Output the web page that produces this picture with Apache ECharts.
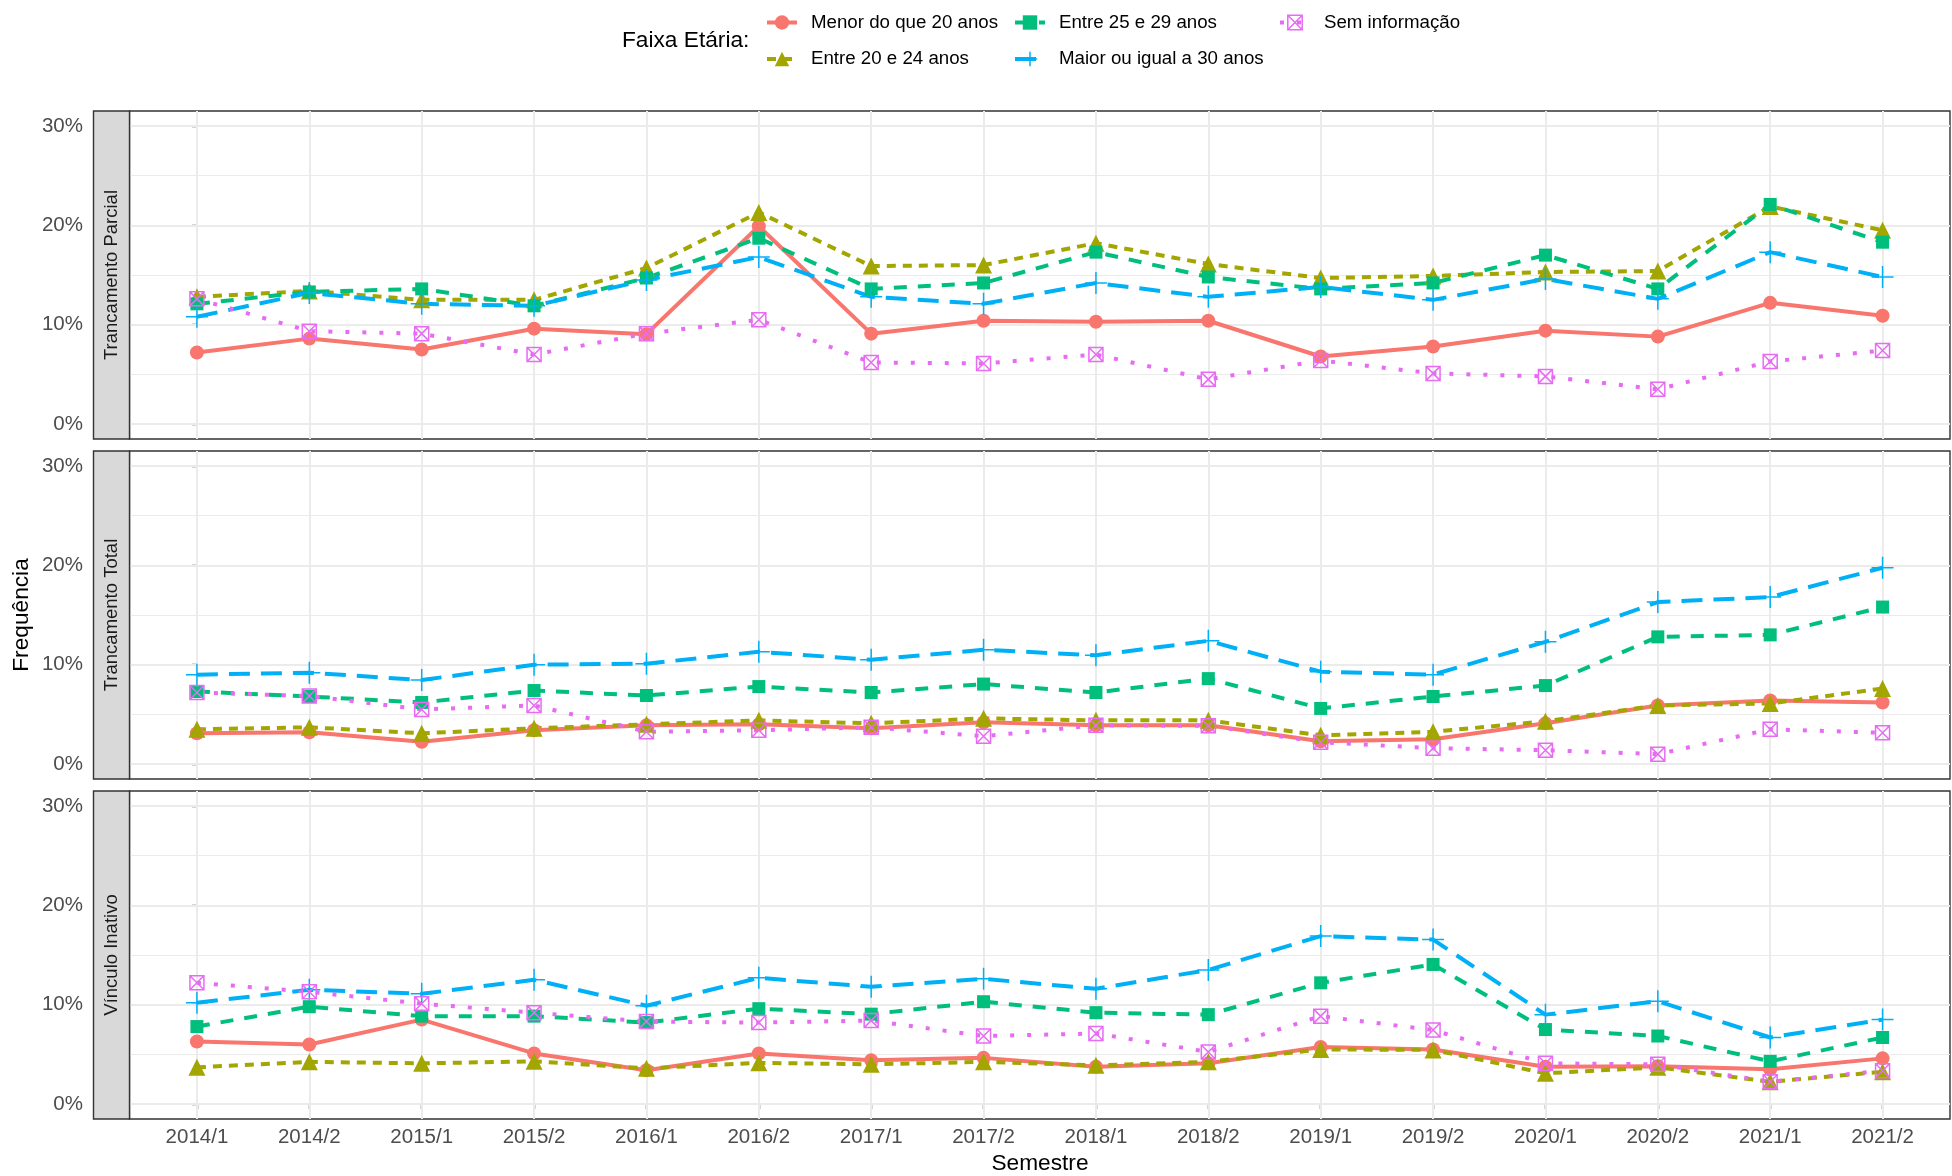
<!DOCTYPE html>
<html>
<head>
<meta charset="utf-8">
<script src="https://cdn.jsdelivr.net/npm/echarts@6/dist/echarts.min.js"></script>
<style>
html,body{margin:0;padding:0;background:#fff;}
#chart{width:1952px;height:1176px;}
</style>
</head>
<body>
<div id="chart"></div>
<script>
// ---------- DATA ----------
const semestres = ['2014/1','2014/2','2015/1','2015/2','2016/1','2016/2','2017/1','2017/2',
                   '2018/1','2018/2','2019/1','2019/2','2020/1','2020/2','2021/1','2021/2'];
const facetas = ['Trancamento Parcial','Trancamento Total','Vínculo Inativo'];
const faixas = ['Menor do que 20 anos','Entre 20 e 24 anos','Entre 25 e 29 anos','Maior ou igual a 30 anos','Sem informação'];
const yTicks = [0, 10, 20, 30];
const yMinor = [5, 15, 25];

// Trancamento Parcial (%)
const parcialMenor20 = [7.2, 8.6, 7.5, 9.6, 9.05, 19.9, 9.1, 10.4, 10.3, 10.4, 6.8, 7.8, 9.4, 8.8, 12.2, 10.9];
const parcial20a24   = [12.8, 13.4, 12.5, 12.5, 15.7, 21.3, 15.9, 16.0, 18.2, 16.1, 14.7, 14.9, 15.3, 15.4, 21.9, 19.5];
const parcial25a29   = [12.1, 13.3, 13.6, 11.9, 14.7, 18.7, 13.6, 14.2, 17.3, 14.8, 13.6, 14.2, 17.0, 13.6, 22.1, 18.3];
const parcial30mais  = [10.8, 13.2, 12.1, 11.9, 14.5, 16.8, 12.8, 12.1, 14.2, 12.8, 13.8, 12.5, 14.6, 12.6, 17.3, 14.8];
const parcialSemInfo = [12.6, 9.35, 9.1, 7.0, 9.1, 10.5, 6.2, 6.1, 7.0, 4.5, 6.4, 5.1, 4.8, 3.5, 6.3, 7.4];

// Trancamento Total (%)
const totalMenor20 = [3.1, 3.2, 2.25, 3.4, 3.9, 4.0, 3.6, 4.2, 3.9, 3.9, 2.3, 2.5, 4.1, 5.9, 6.4, 6.2];
const total20a24   = [3.5, 3.7, 3.1, 3.6, 4.0, 4.4, 4.1, 4.6, 4.4, 4.4, 2.9, 3.25, 4.3, 5.9, 6.1, 7.6];
const total25a29   = [7.3, 6.8, 6.2, 7.4, 6.9, 7.8, 7.2, 8.05, 7.2, 8.6, 5.6, 6.8, 7.9, 12.8, 13.0, 15.8];
const total30mais  = [9.0, 9.2, 8.45, 10.0, 10.1, 11.3, 10.5, 11.5, 10.95, 12.4, 9.3, 9.0, 12.3, 16.3, 16.8, 19.75];
const totalSemInfo = [7.2, 6.85, 5.5, 5.9, 3.25, 3.4, 3.7, 2.8, 3.9, 3.85, 2.2, 1.6, 1.4, 1.0, 3.5, 3.15];

// Vínculo Inativo (%)
const inativoMenor20 = [6.3, 6.0, 8.5, 5.1, 3.4, 5.1, 4.4, 4.65, 3.75, 4.1, 5.75, 5.5, 3.75, 3.8, 3.5, 4.6];
const inativo20a24   = [3.7, 4.25, 4.1, 4.3, 3.6, 4.15, 4.0, 4.25, 3.9, 4.25, 5.5, 5.45, 3.1, 3.7, 2.25, 3.25];
const inativo25a29   = [7.8, 9.8, 8.85, 8.85, 8.2, 9.6, 9.05, 10.3, 9.2, 9.0, 12.2, 14.05, 7.5, 6.85, 4.3, 6.7];
const inativo30mais  = [10.2, 11.5, 11.1, 12.5, 9.9, 12.7, 11.8, 12.6, 11.6, 13.5, 16.9, 16.55, 9.0, 10.35, 6.7, 8.5];
const inativoSemInfo = [12.2, 11.3, 10.1, 9.2, 8.3, 8.2, 8.4, 6.85, 7.1, 5.25, 8.85, 7.45, 4.1, 4.0, 2.25, 3.35];

const paineis = [
  [parcialMenor20, parcial20a24, parcial25a29, parcial30mais, parcialSemInfo],
  [totalMenor20, total20a24, total25a29, total30mais, totalSemInfo],
  [inativoMenor20, inativo20a24, inativo25a29, inativo30mais, inativoSemInfo]
];

// ---------- STYLES ----------
const FONT = '"Liberation Sans", Arial, Helvetica, sans-serif';
const estilos = [
  {color:'#F8766D', dash:'solid', symbol:'circle', size:14, fill:'#F8766D', bw:0},
  {color:'#A3A500', dash:[9,7], symbol:'triangle', size:17, fill:'#A3A500', bw:0},
  {color:'#00BF7D', dash:[13,11], symbol:'rect', size:13, fill:'#00BF7D', bw:0},
  {color:'#00B0F6', dash:[21,11], symbol:'path://M10,0L10,20M0,10L20,10', size:22, fill:'#00B0F6', bw:1.5},
  {color:'#E76BF3', dash:[4,13], symbol:'path://M0,0L20,0L20,20L0,20ZM0,0L20,20M20,0L0,20', size:14, fill:'rgba(0,0,0,0)', bw:1.5}
];

const gridTops = [111, 451, 791];
const gridH = 328;
const gridLeft = 129.5;

const grids = [], xAxes = [], yAxes = [], series = [], graphics = [];

gridTops.forEach((top, p) => {
  grids.push({left: gridLeft, right: 2, top: top, height: gridH, show: true,
    borderColor: '#333333', borderWidth: 1.4, backgroundColor: '#ffffff', containLabel: false});
  const bottom = p === 2;
  xAxes.push({gridIndex: p, type: 'value', min: -0.6, max: 15.6,
    axisLine: {show: false}, splitLine: {show: false},
    axisTick: {show: bottom, customValues: semestres.map((s, i) => i), length: 5,
      lineStyle: {color: '#333333', width: 1.4}},
    axisLabel: {show: bottom, customValues: semestres.map((s, i) => i),
      formatter: v => semestres[Math.round(v)] || '', margin: 8,
      color: '#4D4D4D', fontSize: 20.5, fontFamily: FONT}
  });
  yAxes.push({gridIndex: p, type: 'value', min: -1.5, max: 31.5, offset: 35.5,
    axisLine: {show: false}, splitLine: {show: false},
    axisTick: {show: true, customValues: yTicks, length: 5, lineStyle: {color: '#333333', width: 1.4}},
    axisLabel: {customValues: yTicks, formatter: v => v + '%', margin: 11,
      color: '#4D4D4D', fontSize: 20.5, fontFamily: FONT}
  });

  // grid lines through the axes
  const ml = [];
  yMinor.forEach(v => ml.push({yAxis: v, lineStyle: {color: '#EBEBEB', width: 1, type: 'solid'}}));
  yTicks.forEach(v => ml.push({yAxis: v, lineStyle: {color: '#EBEBEB', width: 2, type: 'solid'}}));
  semestres.forEach((s, i) => ml.push({xAxis: i, lineStyle: {color: '#EBEBEB', width: 2, type: 'solid'}}));
  series.push({type: 'line', name: '_grid' + p, xAxisIndex: p, yAxisIndex: p, data: [], z: 1, silent: true,
    markLine: {silent: true, z: 1, symbol: ['none', 'none'], label: {show: false}, animation: false, data: ml}});

  // lines
  paineis[p].forEach((vals, k) => {
    const st = estilos[k];
    series.push({type: 'line', name: faixas[k], xAxisIndex: p, yAxisIndex: p, z: 2,
      data: vals.map((v, i) => [i, v]), showSymbol: false,
      symbol: st.symbol, symbolSize: st.size,
      itemStyle: {color: st.fill, borderColor: st.color, borderWidth: st.bw},
      lineStyle: {color: st.color, width: 4, type: st.dash, cap: 'butt'},
      silent: true, animation: false});
  });
  // points on top of all lines
  paineis[p].forEach((vals, k) => {
    const st = estilos[k];
    series.push({type: 'scatter', name: faixas[k], xAxisIndex: p, yAxisIndex: p, z: 3,
      data: vals.map((v, i) => [i, v]), symbol: st.symbol, symbolSize: st.size,
      itemStyle: {color: st.fill, borderColor: st.color, borderWidth: st.bw, opacity: 1},
      silent: true, animation: false});
  });

  // facet strip
  graphics.push({type: 'rect', shape: {x: 93.5, y: top, width: 36, height: gridH},
    style: {fill: '#D9D9D9', stroke: '#333333', lineWidth: 1.4}, z: 10});
  graphics.push({type: 'text', x: 111.5, y: top + gridH / 2, rotation: Math.PI / 2,
    style: {text: facetas[p], fill: '#1A1A1A', font: '18.5px ' + FONT, align: 'center', verticalAlign: 'middle'}, z: 11});
});

graphics.push({type: 'text', x: 22, y: 615, rotation: Math.PI / 2,
  style: {text: 'Frequência', fill: '#000', font: '22.7px ' + FONT, align: 'center', verticalAlign: 'middle'}});
graphics.push({type: 'text', x: 1040, y: 1163.5,
  style: {text: 'Semestre', fill: '#000', font: '22.7px ' + FONT, align: 'center', verticalAlign: 'middle'}});
graphics.push({type: 'text', x: 622, y: 41,
  style: {text: 'Faixa Etária:', fill: '#000', font: '22.7px ' + FONT, align: 'left', verticalAlign: 'middle'}});

// legend: one component per key to reproduce the 2-row, column-major layout
const legendPos = [[765, 22], [765, 58.5], [1013, 22], [1013, 58.5], [1278, 22]];
const legends = faixas.map((nome, k) => ({
  data: [nome], left: legendPos[k][0], top: legendPos[k][1] - 9, orient: 'horizontal',
  padding: 0, itemWidth: 30, itemHeight: 18, selectedMode: false,
  itemStyle: {borderWidth: estilos[k].bw, borderColor: estilos[k].color, color: estilos[k].fill},
  lineStyle: {width: 4, color: estilos[k].color, type: estilos[k].dash},
  textStyle: {color: '#000', fontSize: 18.7, fontFamily: FONT, padding: [0, 0, 0, 9]}
}));

const chart = echarts.init(document.getElementById('chart'), null, {renderer: 'canvas'});
chart.setOption({
  animation: false,
  backgroundColor: '#ffffff',
  grid: grids, xAxis: xAxes, yAxis: yAxes, series: series,
  legend: legends, graphic: graphics, tooltip: {show: false}
});
</script>
</body>
</html>
